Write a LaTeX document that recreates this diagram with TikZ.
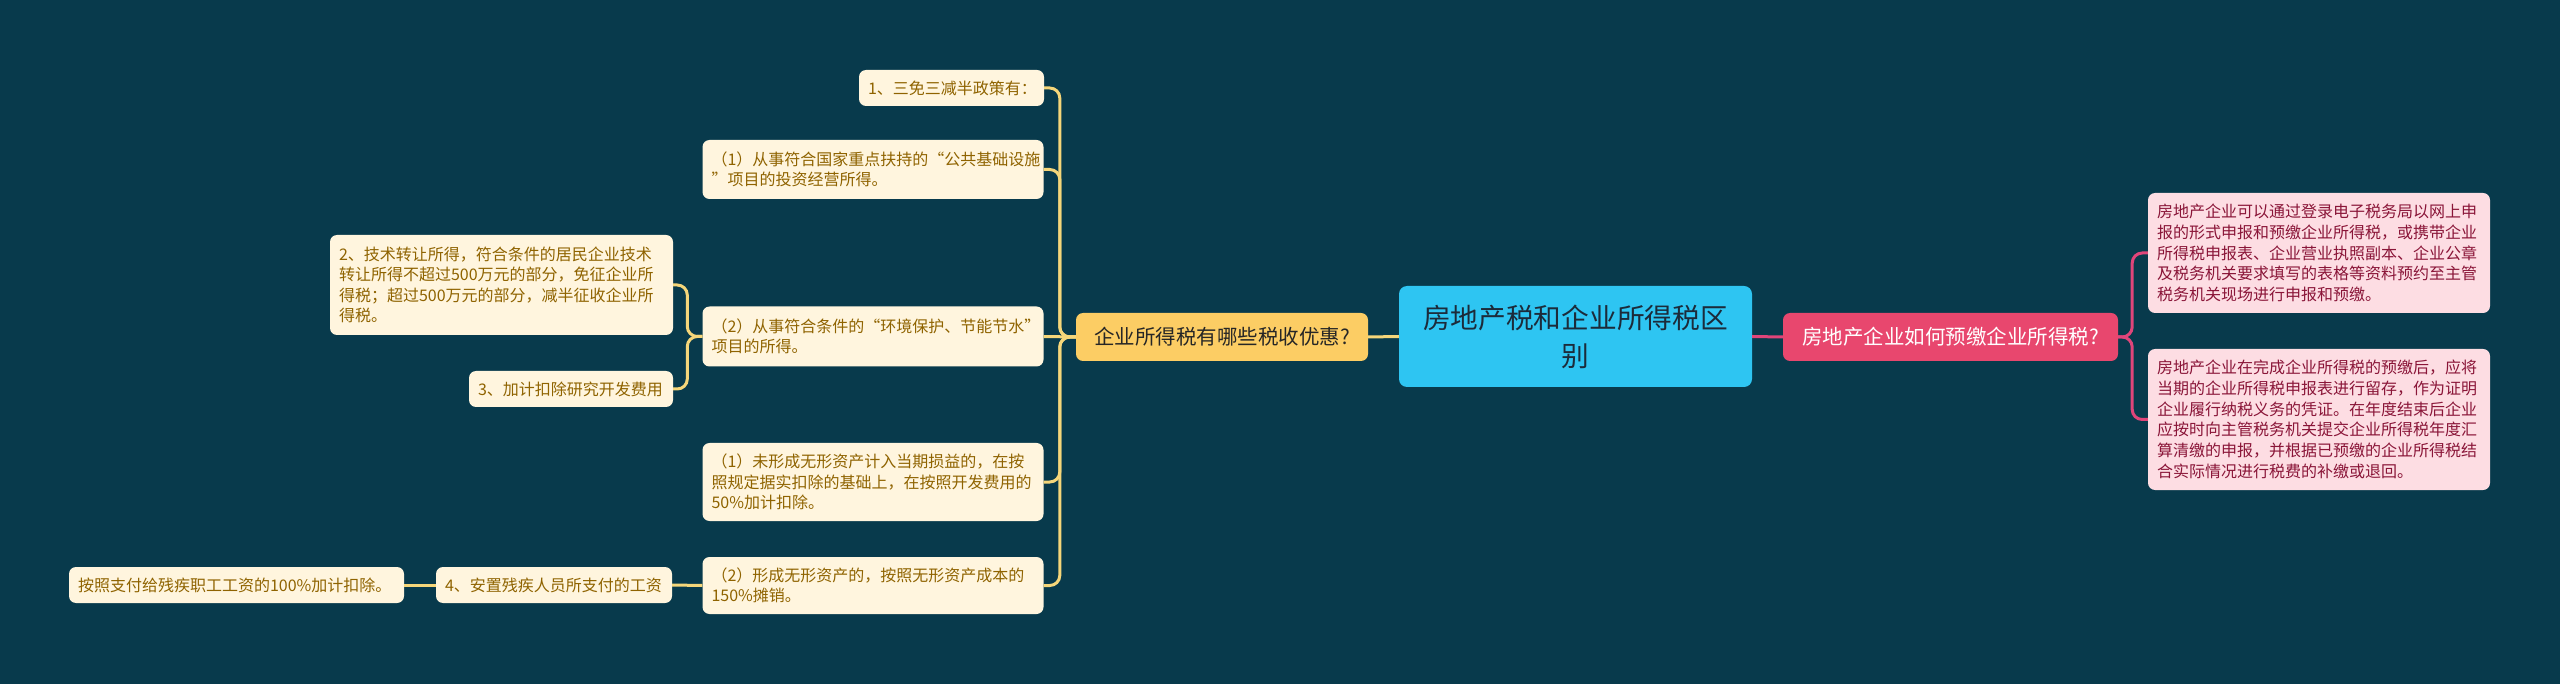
\documentclass[tikz,border=0pt]{standalone}
\usepackage{fontspec}
\newfontfamily\cjk{Noto Sans CJK SC}

\definecolor{bgc}{HTML}{083A4C}
\definecolor{rootc}{HTML}{2EC5F2}
\definecolor{roottx}{HTML}{1C2B3A}
\definecolor{mainy}{HTML}{FCCD64}
\definecolor{mainp}{HTML}{E8476E}
\definecolor{leafy}{HTML}{FFF5DE}
\definecolor{leafytx}{HTML}{8F6300}
\definecolor{leafp}{HTML}{FDDDE3}
\definecolor{leafptx}{HTML}{8A1538}
\definecolor{liney}{HTML}{F5D67A}
\definecolor{linep}{HTML}{E0457A}

\begin{document}
\begin{tikzpicture}[x=1pt,y=-1pt,
    rootbox/.style={fill=rootc,text=roottx,rounded corners=8pt,align=center,
        minimum width=353pt,minimum height=101pt,
        font=\cjk\fontsize{27.7}{38}\selectfont},
    ybox/.style={fill=mainy,text=black!85,rounded corners=7pt,align=center,
        minimum height=48pt,font=\cjk\fontsize{20.5}{24}\selectfont},
    pbox/.style={fill=mainp,text=white,rounded corners=7pt,align=center,
        minimum height=48pt,font=\cjk\fontsize{20.5}{24}\selectfont},
    yleaf/.style={fill=leafy,text=leafytx,rounded corners=7pt,align=left,
        inner xsep=9pt,inner ysep=0pt,font=\cjk\fontsize{16}{20.5}\selectfont},
    pleaf/.style={fill=leafp,text=leafptx,rounded corners=7pt,align=left,
        inner xsep=9pt,inner ysep=0pt,font=\cjk\fontsize{16}{20.7}\selectfont},
    yline/.style={draw=liney,line width=3pt,rounded corners=10pt},
    pline/.style={draw=linep,line width=3pt,rounded corners=10pt}]
        \fill[bgc] (0,0) rectangle (2560,684);
        \path
            (1575.5, 336.5) node[rootbox] (0){房地产税和企业所得税区\\别}
            (1222, 337) node[ybox,minimum width=292pt] (1){企业所得税有哪些税收优惠?}
            (1950.5, 337) node[pbox,minimum width=335pt] (2){房地产企业如何预缴企业所得税?}
            (2319, 253) node[pleaf,text width=324pt,minimum height=120pt] (3){房地产企业可以通过登录电子税务局以网上申\\报的形式申报和预缴企业所得税，或携带企业\\所得税申报表、企业营业执照副本、企业公章\\及税务机关要求填写的表格等资料预约至主管\\税务机关现场进行申报和预缴。}
            (2319, 419.5) node[pleaf,text width=324pt,minimum height=141pt] (4){房地产企业在完成企业所得税的预缴后，应将\\当期的企业所得税申报表进行留存，作为证明\\企业履行纳税义务的凭证。在年度结束后企业\\应按时向主管税务机关提交企业所得税年度汇\\算清缴的申报，并根据已预缴的企业所得税结\\合实际情况进行税费的补缴或退回。}
            (951.5, 88) node[yleaf,text width=167pt,minimum height=36pt] (5){1、三免三减半政策有：}
            (873, 169.5) node[yleaf,text width=323pt,minimum height=59pt] (6){（1）从事符合国家重点扶持的“公共基础设施\\”项目的投资经营所得。}
            (873, 336.5) node[yleaf,text width=323pt,minimum height=60pt] (7){（2）从事符合条件的“环境保护、节能节水”\\项目的所得。}
            (873, 482) node[yleaf,text width=323pt,minimum height=78pt] (8){（1）未形成无形资产计入当期损益的，在按\\照规定据实扣除的基础上，在按照开发费用的\\50\%加计扣除。}
            (873, 585.5) node[yleaf,text width=323pt,minimum height=57pt] (9){（2）形成无形资产的，按照无形资产成本的\\150\%摊销。}
            (501.5, 285) node[yleaf,text width=325pt,minimum height=100pt] (10){2、技术转让所得，符合条件的居民企业技术\\转让所得不超过500万元的部分，免征企业所\\得税；超过500万元的部分，减半征收企业所\\得税。}
            (571, 389) node[yleaf,text width=186pt,minimum height=36pt] (11){3、加计扣除研究开发费用}
            (554, 585) node[yleaf,text width=218pt,minimum height=36pt] (12){4、安置残疾人员所支付的工资}
            (236.5, 585) node[yleaf,text width=317pt,minimum height=36pt] (13){按照支付给残疾职工工资的100\%加计扣除。};
        % left branch
        \begin{scope}[yline]
            \draw (0.west) to (1.east);
            \draw (1.west) -- ++(-16,0) |- (5.east);
            \draw (1.west) -- ++(-16,0) |- (6.east);
            \draw (1.west) to (7.east);
            \draw (1.west) -- ++(-16,0) |- (8.east);
            \draw (1.west) -- ++(-16,0) |- (9.east);
            \draw (7.west) -- ++(-15,0) |- (10.east);
            \draw (7.west) -- ++(-15,0) |- (11.east);
            \draw (9.west) to (12.east);
            \draw (12.west) to (13.east);
        \end{scope}
        % right branch
        \begin{scope}[pline]
            \draw (0.east) to (2.west);
            \draw (2.east) -- ++(14,0) |- (3.west);
            \draw (2.east) -- ++(14,0) |- (4.west);
        \end{scope}
\end{tikzpicture}
\end{document}
